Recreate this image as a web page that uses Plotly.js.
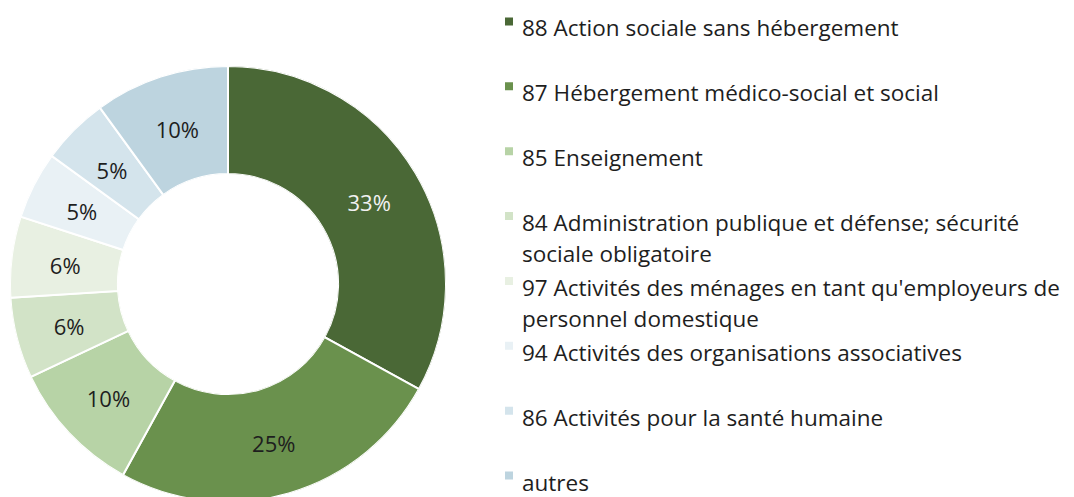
<!DOCTYPE html>
<html>
<head>
<meta charset="utf-8">
<script src="https://cdn.plot.ly/plotly-3.0.1.min.js"></script>
<style>
  html, body { margin: 0; padding: 0; overflow: hidden; background: #ffffff; }
  #chart { width: 1074px; height: 510px; }
</style>
</head>
<body>
<div id="chart"></div>
<script>
// ---- data ----
const categories = [
  "88 Action sociale sans hébergement",
  "87 Hébergement médico-social et social",
  "85 Enseignement",
  "84 Administration publique et défense; sécurité sociale obligatoire",
  "97 Activités des ménages en tant qu'employeurs de personnel domestique",
  "94 Activités des organisations associatives",
  "86 Activités pour la santé humaine",
  "autres"
];
const legendLabels = [
  "88 Action sociale sans hébergement",
  "87 Hébergement médico-social et social",
  "85 Enseignement",
  "84 Administration publique et défense; sécurité\nsociale obligatoire",
  "97 Activités des ménages en tant qu'employeurs de\npersonnel domestique",
  "94 Activités des organisations associatives",
  "86 Activités pour la santé humaine",
  "autres"
];
const shares = [33, 25, 10, 6, 6, 5, 5, 10];
const colors = ["#4a6836", "#6a914d", "#b7d3a6", "#d2e3c7", "#e8f0e2", "#e9f1f5", "#d4e4ec", "#bdd4df"];
const labelColors = ["#f2f2f2", "#1e1e1e", "#1e1e1e", "#1e1e1e", "#1e1e1e", "#1e1e1e", "#1e1e1e", "#1e1e1e"];

// ---- layout constants (pixels) ----
const W = 1074, H = 510;
const FONT = "'Open Sans', 'Noto Sans', sans-serif";
const LEG_SIZE = 22.5, PIE_SIZE = 22;
const pieCx = 228, pieCy = 284, pieR = 218;
const HOLE = 0.505;
const labelDrop = 5;                   // vertical nudge of ring labels (px)
const legTop = 21.5, legStep = 64.86;  // marker centre of first item, spacing
const legLeft = 500;                   // left of legend area
const markerX = 9, textX = 20;         // offsets inside legend area
const lineGap = 31, textDrop = 6.5;

const idx = categories.map((_, i) => i);
function ringDomain(dy) {
  return {
    x: [(pieCx - pieR) / W, (pieCx + pieR) / W],
    y: [1 - (pieCy + dy + pieR) / H, 1 - (pieCy + dy - pieR) / H]
  };
}

// donut drawn as polar bars (one full-height bar per category, angular width = share)
const total = shares.reduce((a, b) => a + b, 0);
let acc = 0;
const midAngles = shares.map(v => { const m = (acc + v / 2) / total * 360; acc += v; return m; });
const widths = shares.map(v => v / total * 360);

const ring = {
  type: "barpolar",
  r: shares.map(() => 1),
  theta: midAngles,
  width: widths,
  text: categories,
  marker: { color: colors, line: { color: "#ffffff", width: 2 } },
  hoverinfo: "text",
  showlegend: false,
  subplot: "polar"
};

const ringLabels = {
  type: "scatterpolar",
  mode: "text",
  r: shares.map(() => 0.5),
  theta: midAngles,
  text: shares.map(v => v + "%"),
  textposition: "middle center",
  textfont: { family: FONT, size: PIE_SIZE, color: labelColors },
  hoverinfo: "skip",
  showlegend: false,
  subplot: "polar2"
};

const legendMarks = {
  type: "scatter",
  mode: "markers",
  x: idx.map(() => markerX),
  y: idx,
  marker: { symbol: "square", size: 8, color: colors, line: { width: 0 } },
  hoverinfo: "skip",
  showlegend: false,
  xaxis: "x",
  yaxis: "y"
};

const yMin = -0.2, yMax = 7.2;
const pxTop = legTop + yMin * legStep;
const pxBot = legTop + yMax * legStep;

const annotations = [];
legendLabels.forEach((t, i) => {
  t.split("\n").forEach((line, j) => {
    annotations.push({
      xref: "x", yref: "y",
      x: textX, y: i,
      text: line,
      showarrow: false,
      xanchor: "left", yanchor: "middle",
      align: "left",
      yshift: -(textDrop + j * lineGap),
      font: { family: FONT, size: LEG_SIZE, color: "#1e1e1e" }
    });
  });
});

const hiddenPolar = (dy) => ({
  domain: ringDomain(dy),
  hole: HOLE,
  bgcolor: "rgba(0,0,0,0)",
  radialaxis: { range: [0, 1], visible: false, showgrid: false },
  angularaxis: { rotation: 90, direction: "clockwise", visible: false, showgrid: false }
});

const layout = {
  width: W, height: H,
  margin: { l: 0, r: 0, t: 0, b: 0, pad: 0 },
  paper_bgcolor: "#ffffff",
  plot_bgcolor: "rgba(0,0,0,0)",
  showlegend: false,
  xaxis: {
    domain: [legLeft / W, 1],
    range: [0, W - legLeft],
    visible: false, fixedrange: true
  },
  yaxis: {
    domain: [1 - pxBot / H, 1 - pxTop / H],
    range: [yMax, yMin],
    visible: false, fixedrange: true
  },
  polar: hiddenPolar(0),
  polar2: hiddenPolar(labelDrop),
  annotations: annotations,
  font: { family: FONT }
};

Plotly.newPlot("chart", [ring, ringLabels, legendMarks], layout, { displayModeBar: false, staticPlot: true });
</script>
</body>
</html>
